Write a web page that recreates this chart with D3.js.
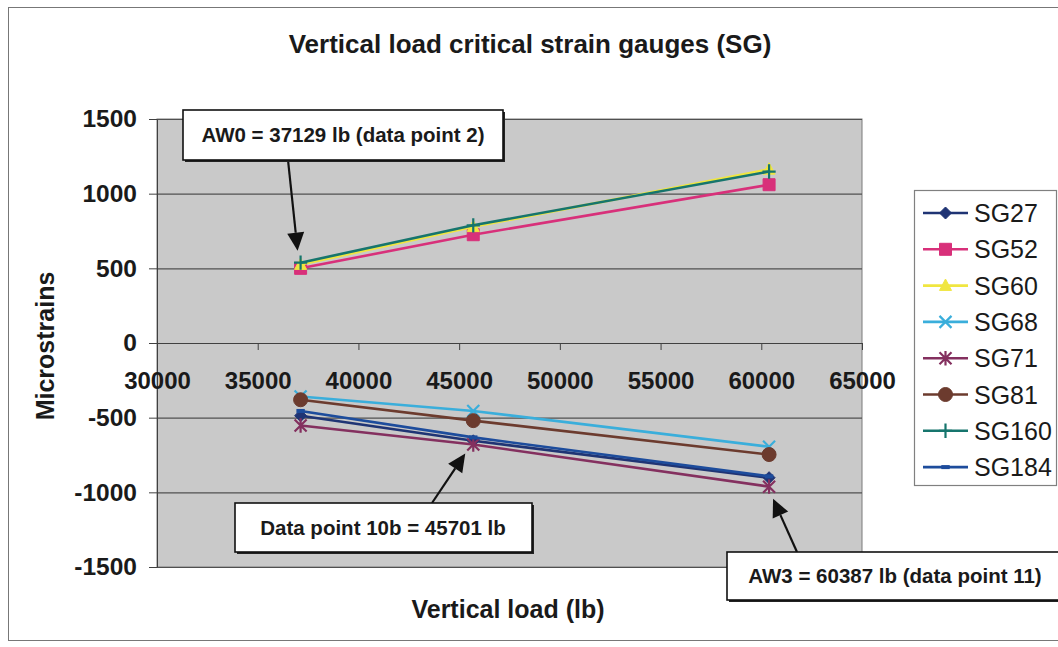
<!DOCTYPE html>
<html>
<head>
<meta charset="utf-8">
<script src="https://cdn.jsdelivr.net/npm/d3@7"></script>
<style>
html,body{margin:0;padding:0;background:#fff;}
svg{display:block;font-family:"Liberation Sans",Arial,Helvetica,sans-serif;}
</style>
</head>
<body>
<svg id="chart" width="1058" height="647"></svg>
<script>
// ---- data ----
const loads = [37129, 45701, 60387];
const seriesNames = ["SG27","SG52","SG60","SG68","SG71","SG81","SG160","SG184"];
const SG27  = [-487, -655, -902];
const SG52  = [500, 725, 1060];
const SG60  = [525, 778, 1163];
const SG68  = [-358, -455, -695];
const SG71  = [-552, -680, -962];
const SG81  = [-380, -520, -747];
const SG160 = [538, 788, 1148];
const SG184 = [-455, -632, -893];
const xTicks = [30000, 35000, 40000, 45000, 50000, 55000, 60000, 65000];
const yTicks = [-1500, -1000, -500, 0, 500, 1000, 1500];
const title = "Vertical load critical strain gauges (SG)";
const xTitle = "Vertical load (lb)";
const yTitle = "Microstrains";
const notes = [
  {text: "AW0 = 37129 lb (data point 2)", load: 37129, series: "SG160"},
  {text: "Data point 10b = 45701 lb", load: 45701, series: "SG71"},
  {text: "AW3 = 60387 lb (data point 11)", load: 60387, series: "SG71"}
];

// ---- styling ----
const values = {SG27, SG52, SG60, SG68, SG71, SG81, SG160, SG184};
const colors = {SG27:"#1f3474", SG52:"#d8307a", SG60:"#f0e640", SG68:"#3aaedb",
                SG71:"#84305f", SG81:"#6c3b2e", SG160:"#16756d", SG184:"#1d4c9c"};
const shapes = {SG27:"diamond", SG52:"square", SG60:"triangle", SG68:"x",
                SG71:"asterisk", SG81:"circle", SG160:"plus", SG184:"dash"};

const svg = d3.select("#chart");
const FONT = '"Liberation Sans",Arial,Helvetica,sans-serif';

// outer chart border
svg.append("rect").attr("x",8.5).attr("y",7.5).attr("width",1070).attr("height",633)
  .attr("fill","#fff").attr("stroke","#777").attr("stroke-width",1);

const L = 157, R = 862, T = 119, B = 567;
const x = d3.scaleLinear().domain([30000,65000]).range([L,R]);
const y = d3.scaleLinear().domain([-1500,1500]).range([B,T]);

// plot area
svg.append("rect").attr("x",L).attr("y",T).attr("width",R-L).attr("height",B-T)
  .attr("fill","#c9c9c9").attr("stroke","#7a7a7a").attr("stroke-width",1);

// gridlines
svg.append("g").selectAll("line").data(yTicks).join("line")
  .attr("x1",L).attr("x2",R).attr("y1",d=>y(d)+0.5).attr("y2",d=>y(d)+0.5)
  .attr("stroke","#505050").attr("stroke-width",1.2);

const fmt = d => String(d);

// y axis
const gy = svg.append("g").attr("transform",`translate(${L},0)`)
  .call(d3.axisLeft(y).tickValues(yTicks).tickSize(8).tickSizeOuter(0).tickPadding(12).tickFormat(fmt));
gy.select(".domain").attr("stroke","#404040");
gy.selectAll(".tick line").attr("stroke","#404040");
gy.selectAll("text").attr("font-family",FONT).attr("font-size",24.5).attr("font-weight","bold").attr("fill","#1a1a1a");

// x axis crossing at 0
const gx = svg.append("g").attr("transform",`translate(0,${y(0)})`)
  .call(d3.axisBottom(x).tickValues(xTicks).tickSize(7).tickSizeOuter(0).tickPadding(22).tickFormat(fmt));
gx.select(".domain").attr("stroke","#404040");
gx.selectAll(".tick line").attr("stroke","#404040");
gx.selectAll("text").attr("font-family",FONT).attr("font-size",24).attr("font-weight","bold").attr("fill","#1a1a1a");

// marker path generator
function markerPath(shape, s){
  switch(shape){
    case "diamond": return `M0,${-s}L${s},0L0,${s}L${-s},0Z`;
    case "square": return `M${-s},${-s}H${s}V${s}H${-s}Z`;
    case "triangle": return `M0,${-s*1.1}L${s},${s*0.8}L${-s},${s*0.8}Z`;
    case "x": return `M${-s},${-s}L${s},${s}M${-s},${s}L${s},${-s}`;
    case "asterisk": return `M${-s},${-s}L${s},${s}M${-s},${s}L${s},${-s}M0,${-s*1.2}V${s*1.2}`;
    case "circle": return d3.symbol(d3.symbolCircle, Math.PI*s*s)();
    case "plus": return `M${-s*1.1},0H${s*1.1}M0,${-s*1.2}V${s*1.2}`;
    case "dash": return `M${-s*0.7},0H${s*0.7}`;
  }
}
const filled = {diamond:true, square:true, triangle:true, circle:true};
function drawMarker(g, name, s){
  const sh = shapes[name];
  const p = g.append("path").attr("d", markerPath(sh, s));
  if(filled[sh]) p.attr("fill",colors[name]).attr("stroke",colors[name]).attr("stroke-width",1);
  else p.attr("fill","none").attr("stroke",colors[name]).attr("stroke-width", sh==="dash"?4:2.2);
  return p;
}

// series
const line = d3.line().x(d=>x(d[0])).y(d=>y(d[1]));
const sg = svg.append("g");
seriesNames.forEach(name=>{
  const pts = loads.map((l,i)=>[l, values[name][i]]);
  sg.append("path").datum(pts).attr("d",line).attr("fill","none")
    .attr("stroke",colors[name]).attr("stroke-width",2.6);
  pts.forEach(p=>{
    const g = sg.append("g").attr("transform",`translate(${x(p[0])},${y(p[1])})`);
    drawMarker(g, name, shapes[name]==="circle"?7:6);
  });
});

// legend
const lg = svg.append("g");
lg.append("rect").attr("x",914.5).attr("y",190.5).attr("width",142).attr("height",295)
  .attr("fill","#fff").attr("stroke","#808080").attr("stroke-width",1.2);
seriesNames.forEach((name,i)=>{
  const cy = 213 + i*36.3;
  lg.append("line").attr("x1",923).attr("x2",968).attr("y1",cy).attr("y2",cy)
    .attr("stroke",colors[name]).attr("stroke-width",2.6);
  const g = lg.append("g").attr("transform",`translate(945.5,${cy})`);
  drawMarker(g, name, shapes[name]==="circle"?7:6);
  lg.append("text").attr("x",974).attr("y",cy).attr("dy","0.36em")
    .attr("font-family",FONT).attr("font-size",25).attr("fill","#1a1a1a").text(name);
});

// titles
svg.append("text").attr("x",530).attr("y",53).attr("text-anchor","middle")
  .attr("font-family",FONT).attr("font-size",26).attr("font-weight","bold").attr("fill","#1a1a1a").text(title);
svg.append("text").attr("x",508).attr("y",618).attr("text-anchor","middle")
  .attr("font-family",FONT).attr("font-size",25).attr("font-weight","bold").attr("fill","#1a1a1a").text(xTitle);
svg.append("text").attr("transform","translate(54,346) rotate(-90)").attr("text-anchor","middle")
  .attr("font-family",FONT).attr("font-size",25).attr("font-weight","bold").attr("fill","#1a1a1a").text(yTitle);

// annotations
const boxes = [
  {x0:183, y0:110, x1:503, y1:160, tx:343, tail:[288,160], off:[-3,-12]},
  {x0:235, y0:503, x1:532, y1:552, tx:383, tail:[432,503], off:[-8,9]},
  {x0:727, y0:552, x1:1064, y1:600, tx:895, tail:[797,552], off:[4,12]}
];
const ag = svg.append("g");
notes.forEach((n,i)=>{
  const b = boxes[i];
  const li = loads.indexOf(n.load);
  const tip = [x(n.load)+b.off[0], y(values[n.series][li])+b.off[1]];
  const tail = b.tail;
  // arrow
  const dx = tip[0]-tail[0], dy = tip[1]-tail[1];
  const len = Math.hypot(dx,dy), ux = dx/len, uy = dy/len;
  const hl = 18, hw = 8.5;
  const bx = tip[0]-ux*hl, by = tip[1]-uy*hl;
  ag.append("line").attr("x1",tail[0]).attr("y1",tail[1]).attr("x2",bx).attr("y2",by)
    .attr("stroke","#111").attr("stroke-width",2.2);
  ag.append("path").attr("d",`M${tip[0]},${tip[1]}L${bx-uy*hw},${by+ux*hw}L${bx+uy*hw},${by-ux*hw}Z`)
    .attr("fill","#111");
  // box with shadow
  ag.append("rect").attr("x",b.x0+2).attr("y",b.y0+2).attr("width",b.x1-b.x0).attr("height",b.y1-b.y0)
    .attr("fill","#222");
  ag.append("rect").attr("x",b.x0).attr("y",b.y0).attr("width",b.x1-b.x0).attr("height",b.y1-b.y0)
    .attr("fill","#fff").attr("stroke","#111").attr("stroke-width",1.6);
  ag.append("text").attr("x",b.tx).attr("y",(b.y0+b.y1)/2).attr("dy","0.36em").attr("text-anchor","middle")
    .attr("font-family",FONT).attr("font-size",20.5).attr("font-weight","bold").attr("fill","#1a1a1a").text(n.text);
});
</script>
</body>
</html>
